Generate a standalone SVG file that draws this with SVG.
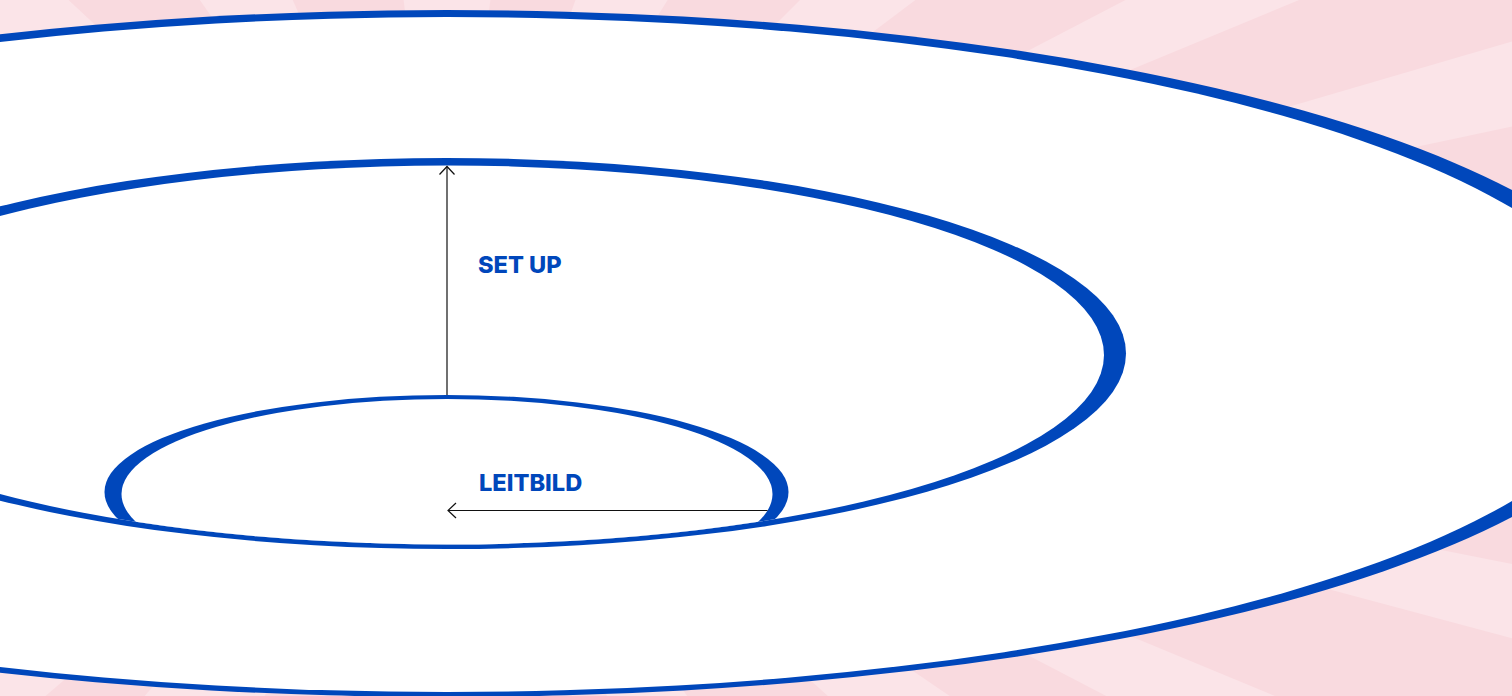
<svg xmlns="http://www.w3.org/2000/svg" width="1512" height="696" viewBox="0 0 1512 696">
  <style>
    .bg { fill: #f9dadf; }
    .ray { fill: #fbe4e8; }
    .blue { fill: #0047bb; }
    .white { fill: #ffffff; }
    .label { font-family: Inter, "Liberation Sans", sans-serif; font-weight: 800; font-size: 23.6px; fill: #0047bb; }
    .conn { stroke: #111111; stroke-width: 1.2; fill: none; }
  </style>
  <defs>
    <marker id="arrow" viewBox="0 0 12 18" refX="10" refY="9" markerWidth="12" markerHeight="18" markerUnits="userSpaceOnUse" orient="auto">
      <path d="M2,1.5 L10,9 L2,16.5" fill="none" stroke="#111111" stroke-width="1.2"/>
    </marker>
    <clipPath id="middleClip">
      <ellipse cx="447" cy="355" rx="657" ry="189.5"/>
    </clipPath>
  </defs>

  <g id="background">
    <rect class="bg" x="0" y="0" width="1512" height="696"/>
    <polygon class="ray" points="447,353 -1718,-897 -1381,-1352"/>
    <polygon class="ray" points="447,353 -987,-1695 -554,-1938"/>
    <polygon class="ray" points="447,353 142,-2128 752,-2128"/>
    <polygon class="ray" points="447,353 1302,-1996 1772,-1767"/>
    <polygon class="ray" points="447,353 2215,-1415 2444,-1152"/>
    <polygon class="ray" points="447,353 2665,-801 2757,-604"/>
    <polygon class="ray" points="447,353 2847,-349 2892,-167"/>
    <polygon class="ray" points="447,353 2900,839 2862,1000"/>
    <polygon class="ray" points="447,353 2757,1310 2665,1507"/>
    <polygon class="ray" points="447,353 2512,1762 2305,2026"/>
    <polygon class="ray" points="447,353 1881,2401 1504,2619"/>
    <polygon class="ray" points="447,353 1094,2768 665,2843"/>
    <polygon class="ray" points="447,353 13,2815 -408,2702"/>
    <polygon class="ray" points="447,353 -727,2560 -1206,2228"/>
    <polygon class="ray" points="447,353 -1454,1977 -1718,1603"/>
  </g>

  <g id="ring-outer">
    <ellipse class="blue" cx="447" cy="353.5" rx="1211" ry="343.5"/>
    <ellipse class="white" cx="447" cy="354.5" rx="1182" ry="337.5"/>
  </g>

  <g id="ring-middle">
    <ellipse class="blue" cx="447" cy="353.5" rx="679" ry="195.5"/>
    <ellipse class="white" cx="447" cy="355" rx="657" ry="189.5"/>
  </g>

  <g id="ring-inner" clip-path="url(#middleClip)">
    <ellipse class="blue" cx="446.5" cy="492" rx="342" ry="97"/>
    <ellipse class="white" cx="447" cy="494" rx="325.5" ry="95"/>
  </g>

  <g id="connectors">
    <line class="conn" x1="447" y1="395" x2="447" y2="166.5" marker-end="url(#arrow)"/>
    <line class="conn" x1="767.5" y1="510.5" x2="448" y2="510.5" marker-end="url(#arrow)"/>
  </g>

  <g id="label-setup">
    <text class="label" x="478" y="273">SET UP</text>
  </g>
  <g id="label-leitbild">
    <text class="label" x="479" y="491">LEITBILD</text>
  </g>
</svg>
